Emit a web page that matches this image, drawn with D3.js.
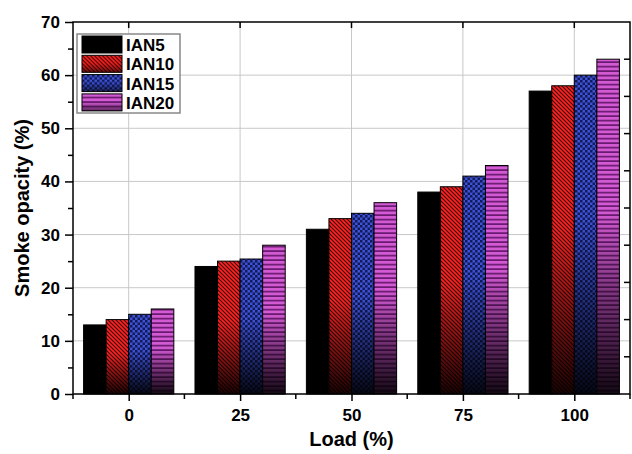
<!DOCTYPE html>
<html><head><meta charset="utf-8">
<script src="https://cdn.jsdelivr.net/npm/d3@7"></script>
<style>body{margin:0;background:#fff}svg{display:block}text{font-family:Arial,"Liberation Sans",sans-serif;font-weight:bold}</style>
</head><body><svg id="c" width="632" height="454"></svg>
<script>
const categories = ["0","25","50","75","100"];
const seriesNames = ["IAN5","IAN10","IAN15","IAN20"];
const IAN5  = [13, 24, 31, 38, 57];
const IAN10 = [14, 25, 33, 39, 58];
const IAN15 = [15, 25.4, 34, 41, 60];
const IAN20 = [16, 28, 36, 43, 63];
const seriesValues = [IAN5, IAN10, IAN15, IAN20];
const yTicks = [0,10,20,30,40,50,60,70];

const svg = d3.select("#c");
const m = {l:73, r:630, t:22, b:394};
const x = d3.scaleBand().domain(categories).range([m.l, m.r]).paddingInner(0.19).paddingOuter(0.095);
const xc = d3.scalePoint().domain(categories).range([m.l, m.r]).padding(0.5);
const step = xc.step();
const xs = d3.scaleBand().domain(seriesNames).range([0, x.bandwidth()]);
const y = d3.scaleLinear().domain([0,70]).range([m.b, m.t]);

const defs = svg.append("defs");
const pr = defs.append("pattern").attr("id","pRed").attr("patternUnits","userSpaceOnUse").attr("width",4).attr("height",4);
pr.append("rect").attr("width",4).attr("height",4).attr("fill","#ff2424");
pr.append("path").attr("d","M-1,-1 L5,5 M-1,3 L1,5 M3,-1 L5,1").attr("stroke","#3a0000").attr("stroke-width",1.1);
const pb = defs.append("pattern").attr("id","pBlue").attr("patternUnits","userSpaceOnUse").attr("width",5).attr("height",5);
pb.append("rect").attr("width",5).attr("height",5).attr("fill","#3c52d8");
pb.append("rect").attr("width",2.5).attr("height",2.5).attr("fill","#141a55");
pb.append("rect").attr("x",2.5).attr("y",2.5).attr("width",2.5).attr("height",2.5).attr("fill","#141a55");
const pp = defs.append("pattern").attr("id","pPur").attr("patternUnits","userSpaceOnUse").attr("width",4.5).attr("height",4.5);
pp.append("rect").attr("width",4.5).attr("height",4.5).attr("fill","#d25ad2");
pp.append("rect").attr("y",2.8).attr("width",4.5).attr("height",1.7).attr("fill","#6a1a70");
const grad = defs.append("linearGradient").attr("id","shade").attr("x1",0).attr("y1",0).attr("x2",0).attr("y2",1);
grad.append("stop").attr("offset","0.45").attr("stop-color","#000").attr("stop-opacity",0);
grad.append("stop").attr("offset","1").attr("stop-color","#000").attr("stop-opacity",0.9);
const fills = ["#000","url(#pRed)","url(#pBlue)","url(#pPur)"];

// gridlines
svg.append("g").selectAll("line").data(yTicks.slice(1,-1)).join("line")
  .attr("x1",m.l).attr("x2",m.r).attr("y1",d=>y(d)).attr("y2",d=>y(d)).attr("stroke","#c8c8c8").attr("stroke-width",1);
svg.append("g").selectAll("line").data(categories).join("line")
  .attr("x1",d=>xc(d)).attr("x2",d=>xc(d)).attr("y1",m.t).attr("y2",m.b).attr("stroke","#c8c8c8").attr("stroke-width",1);

// bars
const gs = svg.append("g").selectAll("g").data(seriesNames).join("g");
gs.each(function(s,si){
  const g = d3.select(this);
  const data = seriesValues[si].map((v,i)=>({c:categories[i],v}));
  g.selectAll("rect.b").data(data).join("rect").attr("class","b")
    .attr("x",d=>x(d.c)+xs(s)).attr("width",xs.bandwidth()).attr("y",d=>y(d.v)).attr("height",d=>y(0)-y(d.v))
    .attr("fill",fills[si]).attr("stroke","#000").attr("stroke-width",1);
  if(si>0) g.selectAll("rect.s").data(data).join("rect").attr("class","s")
    .attr("x",d=>x(d.c)+xs(s)).attr("width",xs.bandwidth()).attr("y",d=>y(d.v)).attr("height",d=>y(0)-y(d.v))
    .attr("fill","url(#shade)");
});

// axes
const left = svg.append("g").attr("transform",`translate(${m.l},0)`)
  .call(d3.axisLeft(y).tickValues(yTicks).tickSize(8).tickPadding(5).tickFormat(d3.format("d")));
left.selectAll("text").attr("font-size",17).attr("fill","#000");
svg.append("g").attr("transform",`translate(${m.l},0)`)
  .call(d3.axisLeft(y).tickValues(d3.range(5,70,10)).tickSize(5).tickFormat(""));
const bottom = svg.append("g").attr("transform",`translate(0,${m.b})`)
  .call(d3.axisBottom(xc).tickSize(7).tickPadding(8));
bottom.selectAll("text").attr("font-size",17).attr("fill","#000");
const mids = d3.range(categories.length+1).map(i=>m.l + i*step);
svg.append("g").selectAll("line").data(mids).join("line")
  .attr("x1",d=>d).attr("x2",d=>d).attr("y1",m.b).attr("y2",m.b+5).attr("stroke","#000").attr("stroke-width",1.5);
svg.append("g").selectAll("line").data(categories).join("line")
  .attr("x1",d=>xc(d)).attr("x2",d=>xc(d)).attr("y1",m.t).attr("y2",m.t+6).attr("stroke","#000").attr("stroke-width",1.5);
svg.append("g").selectAll("line").data(d3.range(7,70,7)).join("line")
  .attr("x1",m.r).attr("x2",m.r-6).attr("y1",d=>y(d)).attr("y2",d=>y(d)).attr("stroke","#000").attr("stroke-width",1.5);
svg.selectAll(".domain").remove();
svg.selectAll(".tick line").attr("stroke","#000").attr("stroke-width",1.5);
svg.append("rect").attr("x",m.l).attr("y",m.t).attr("width",m.r-m.l).attr("height",m.b-m.t)
  .attr("fill","none").attr("stroke","#000").attr("stroke-width",1.5);

// titles
svg.append("text").attr("transform",`translate(29,${(m.t+m.b)/2}) rotate(-90)`).attr("text-anchor","middle")
  .attr("font-size",20).text("Smoke opacity (%)");
svg.append("text").attr("x",(m.l+m.r)/2).attr("y",446).attr("text-anchor","middle").attr("font-size",20).text("Load (%)");

// legend
const lg = svg.append("g").attr("transform","translate(77,34)");
lg.append("rect").attr("width",103).attr("height",79).attr("fill","#fff").attr("stroke","#888").attr("stroke-width",1.5);
const rows = lg.selectAll("g").data(seriesNames).join("g").attr("transform",(d,i)=>`translate(5,${2+i*19.3})`);
rows.append("rect").attr("width",40).attr("height",17).attr("fill",(d,i)=>fills[i]).attr("stroke","#000").attr("stroke-width",1);
rows.filter((d,i)=>i>0).append("rect").attr("width",40).attr("height",17).attr("fill","url(#shade)").attr("opacity",0.6);
rows.append("text").attr("x",44).attr("y",15).attr("font-size",17).text(d=>d);
</script></body></html>
